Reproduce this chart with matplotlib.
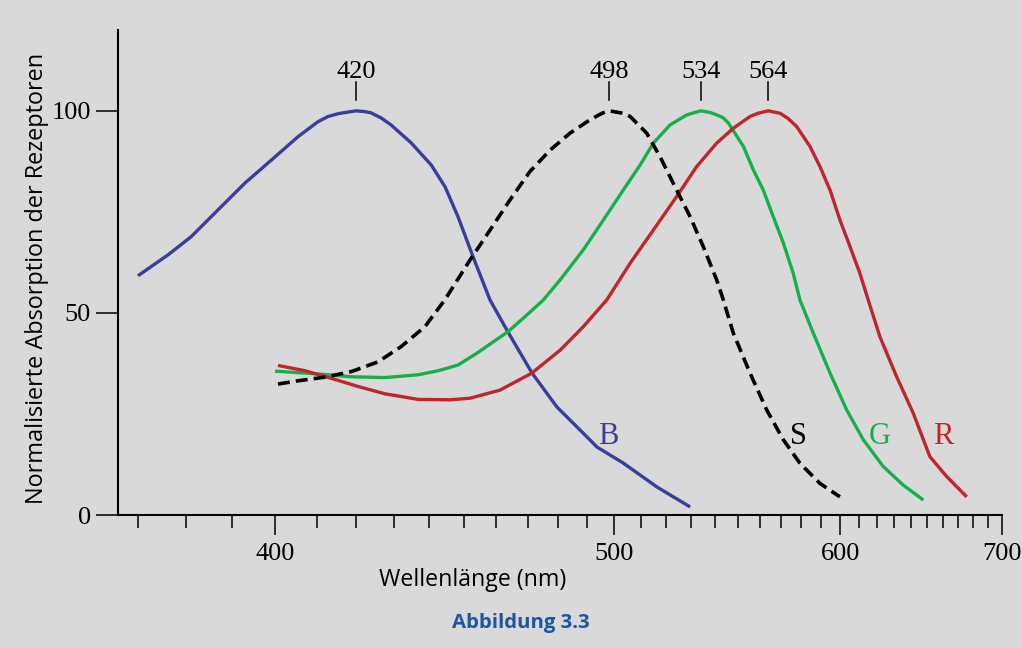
import numpy as np
import matplotlib
matplotlib.use("Agg")
import matplotlib.pyplot as plt

# ---- data (wavelength nm, normalised absorption) ----
b_wl = [370.0, 376.2, 381.0, 386.9, 393.0, 399.9, 405.4, 410.3, 412.8, 415.4, 417.9, 420.0,
        422.3, 423.9, 426.7, 429.3, 434.8, 440.5, 444.5, 448.3, 452.8, 458.0, 463.6, 471.4,
        479.7, 488.7, 493.7, 503.2, 516.3, 529.6]
b_val = [59.2, 64.4, 68.8, 75.5, 82.2, 88.6, 93.6, 97.3, 98.6, 99.3, 99.7, 100.0,
         99.8, 99.5, 98.2, 96.5, 92.1, 86.6, 81.2, 73.8, 63.9, 53.2, 45.3, 35.1,
         26.7, 20.3, 16.8, 12.9, 6.9, 2.0]

s_wl = [400.6, 405.4, 412.0, 418.8, 425.8, 432.1, 438.7, 444.4, 451.9, 458.0, 464.3, 470.7,
        477.4, 484.2, 491.2, 495.5, 498.0, 503.3, 505.9, 509.7, 512.2, 517.4, 522.7, 529.6,
        535.1, 540.8, 543.7, 548.1, 555.6, 563.3, 571.2, 579.3, 589.4, 599.8]
s_val = [32.4, 33.2, 34.1, 35.5, 37.9, 41.7, 46.6, 53.2, 63.1, 70.5, 78.0, 85.0,
         90.3, 94.5, 97.8, 99.4, 100.0, 99.4, 98.6, 96.1, 94.5, 88.7, 82.1, 73.8,
         66.4, 58.2, 53.2, 45.0, 35.1, 26.0, 18.6, 12.8, 7.8, 4.5]

g_wl = [399.9, 410.3, 418.8, 427.6, 436.8, 442.5, 448.3, 453.9, 463.7, 469.7, 475.1, 480.8,
        488.8, 496.0, 503.3, 509.7, 514.8, 521.4, 528.2, 531.6, 534.0, 538.0, 540.8, 543.6,
        545.9, 552.6, 557.1, 561.7, 566.4, 571.2, 576.0, 579.3, 586.0, 594.6, 603.4, 612.5,
        623.7, 635.4, 647.6]
g_val = [35.6, 34.9, 34.2, 34.0, 34.7, 35.7, 37.1, 40.0, 45.4, 49.5, 53.2, 58.2,
         65.6, 73.0, 80.4, 86.6, 92.0, 96.5, 99.0, 99.6, 100.0, 99.6, 99.0, 98.3,
         97.0, 91.2, 85.4, 80.4, 73.8, 67.3, 59.8, 53.2, 45.0, 35.1, 26.0, 18.6,
         12.0, 7.4, 3.7]

r_wl = [400.6, 407.1, 413.7, 420.5, 427.6, 436.8, 446.0, 451.9, 461.1, 471.3, 480.8, 488.8,
        497.2, 505.9, 514.8, 524.1, 532.3, 540.8, 548.1, 555.6, 559.3, 564.0, 569.6, 573.5,
        577.7, 584.3, 589.4, 594.6, 599.8, 605.2, 610.6, 615.2, 621.8, 631.5, 641.4, 651.7,
        662.4, 675.6]
r_val = [37.0, 35.7, 33.8, 31.8, 30.0, 28.6, 28.5, 28.9, 30.9, 35.1, 40.8, 46.6,
         53.2, 62.3, 70.5, 78.8, 86.2, 92.0, 95.7, 98.6, 99.4, 100.0, 99.4, 98.1,
         96.1, 91.2, 86.2, 80.4, 73.0, 66.4, 59.8, 53.2, 44.1, 34.2, 25.2, 14.4,
         9.5, 4.5]

peaks = [420, 498, 534, 564]
curve_labels = ["B", "S", "G", "R"]
label_wl = [497.8, 578.8, 621.8, 660.2]
label_val = [19.4, 19.4, 19.4, 19.4]

x_major = [400, 500, 600, 700]
x_minor = [w for w in range(370, 701, 10) if w not in (400, 500, 600, 700)]
y_ticks = [0, 50, 100]

BG = "#d9d9d9"
BLUE = "#3a3d9e"
GREEN = "#16b04a"
RED = "#bf262c"
CAPTION = "#1d55a3"

SERIF = ["Liberation Serif", "DejaVu Serif"]
SANS = ["Open Sans", "DejaVu Sans"]

fig = plt.figure(figsize=(10.22, 6.48), dpi=100, facecolor=BG)
ax = fig.add_axes([118 / 1022, 133 / 648, 883.7 / 1022, 485 / 648])
ax.set_facecolor(BG)


def fwd(x):
    x = np.asarray(x, dtype=float)
    return -1.0 / np.maximum(x, 1e-9)


def inv(y):
    y = np.asarray(y, dtype=float)
    return -1.0 / np.minimum(y, -1e-12)


ax.set_xscale("function", functions=(fwd, inv))
ax.set_xlim(366, 700)
ax.set_ylim(0, 120)

lw = 2.4
ax.plot(b_wl, b_val, color=BLUE, lw=lw, solid_capstyle="butt", solid_joinstyle="round", clip_on=False)
ax.plot(g_wl, g_val, color=GREEN, lw=lw, solid_capstyle="butt", solid_joinstyle="round", clip_on=False)
ax.plot(r_wl, r_val, color=RED, lw=lw, solid_capstyle="butt", solid_joinstyle="round", clip_on=False)
ax.plot(s_wl, s_val, color="black", lw=2.6, linestyle=(0, (3.3, 1.7)), clip_on=False)

label_colors = [BLUE, "black", GREEN, RED]
for t, xw, yv, c in zip(curve_labels, label_wl, label_val, label_colors):
    ax.text(xw, yv, t, color=c, fontsize=22, family=SERIF, ha="center", va="center")

for p in peaks:
    ax.plot([p, p], [102.6, 107.2], color="black", lw=1.1, clip_on=False)
    ax.text(p, 108.0, str(p), fontsize=19, family=SERIF, ha="center", va="baseline")

for s in ("top", "right"):
    ax.spines[s].set_visible(False)
for s in ("left", "bottom"):
    ax.spines[s].set_linewidth(1.5)

ax.set_xticks(x_major)
ax.set_xticks(x_minor, minor=True)
ax.set_xticklabels([str(v) for v in x_major], fontsize=19, family=SERIF)
ax.tick_params(axis="x", which="major", direction="out", length=14.5, width=1.1, pad=6)
ax.tick_params(axis="x", which="minor", direction="out", length=9.5, width=1.1)
ax.set_yticks(y_ticks)
ax.set_yticklabels([str(v) for v in y_ticks], fontsize=19, family=SERIF)
ax.tick_params(axis="y", which="major", direction="out", length=15.5, width=1.1, pad=4)

xl = ax.set_xlabel("Wellenlänge (nm)", fontsize=16.7, family=SANS)
ax.xaxis.set_label_coords((473 - 118) / 883.7, (515 - 580) / 485)
xl.set_verticalalignment("center")
yl = ax.set_ylabel("Normalisierte Absorption der Rezeptoren", fontsize=16.9, family=SANS)
ax.yaxis.set_label_coords((37 - 118) / 883.7, (515 - 278) / 485)
yl.set_verticalalignment("center")

fig.text(521 / 1022, 1 - 623 / 648, "Abbildung 3.3", color=CAPTION, fontsize=14.7,
         fontweight="bold", family=SANS, ha="center", va="center")

fig.savefig("out.png", dpi=100, facecolor=BG)
